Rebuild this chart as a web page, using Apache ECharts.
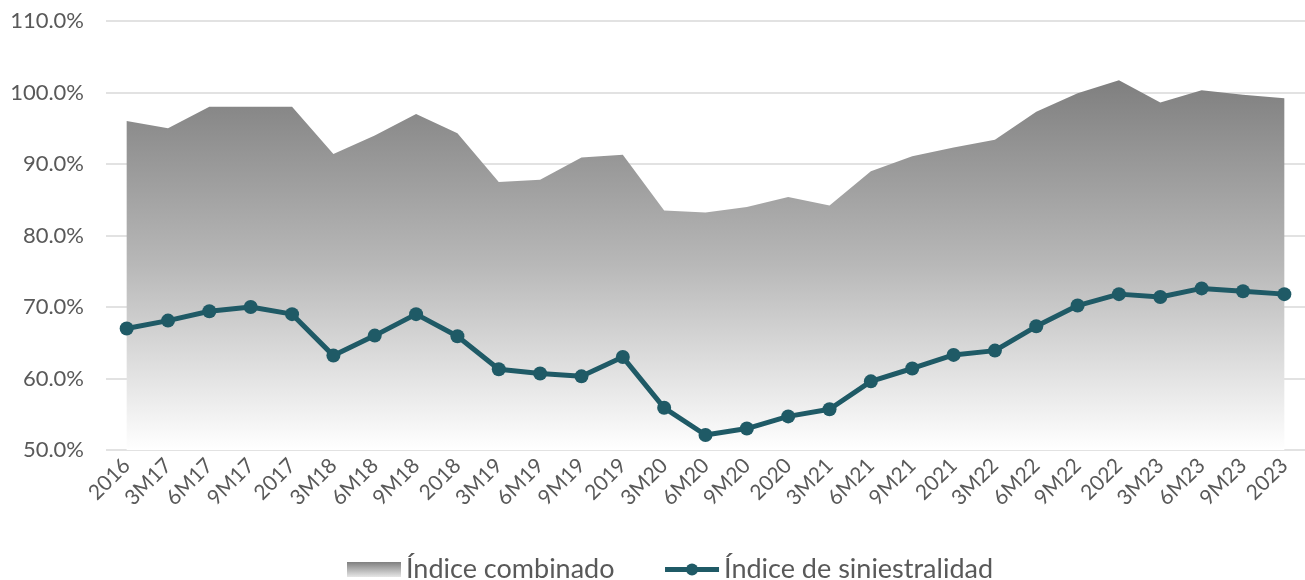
<!DOCTYPE html>
<html>
<head>
<meta charset="utf-8">
<script src="https://cdn.jsdelivr.net/npm/echarts@6/dist/echarts.min.js"></script>
<style>
  html, body { margin: 0; padding: 0; background: #fff; }
  #chart { width: 1305px; height: 580px; }
</style>
</head>
<body>
<div id="chart"></div>
<script>
// periodos
const categories = ['2016','3M17','6M17','9M17','2017','3M18','6M18','9M18','2018',
  '3M19','6M19','9M19','2019','3M20','6M20','9M20','2020','3M21','6M21','9M21','2021',
  '3M22','6M22','9M22','2022','3M23','6M23','9M23','2023']

// Índice combinado (%)
const combinado = [96.0,95.0,98.0,98.0,98.0,91.4,94.0,97.0,94.3,
  87.5,87.8,90.9,91.3,83.5,83.2,84.0,85.4,84.2,89.0,91.1,92.3,
  93.4,97.3,99.9,101.7,98.6,100.3,99.7,99.2]

// Índice de siniestralidad (%)
const siniestralidad = [67.0,68.1,69.4,70.0,69.0,63.2,66.0,69.0,65.9,
  61.3,60.7,60.3,63.0,55.9,52.1,53.0,54.7,55.7,59.6,61.4,63.3,
  63.9,67.3,70.2,71.8,71.4,72.6,72.2,71.8]

const chart = echarts.init(document.getElementById('chart'))
const fontFamily = 'Lato, "Noto Sans", sans-serif'

const option = {
  animation: false,
  grid: { left: 106, right: 0, top: 21, bottom: 130 },
  legend: {
    top: 551,
    left: 342,
    itemGap: 48,
    itemWidth: 54,
    itemHeight: 15,
    textStyle: { color: '#595959', fontSize: 27, fontFamily: fontFamily },
    data: [
      {
        name: 'Índice combinado',
        icon: 'rect',
        itemStyle: {
          color: new echarts.graphic.LinearGradient(0, 0, 0, 1, [
            { offset: 0, color: '#7f7f7f' },
            { offset: 1, color: '#e6e6e6' }
          ])
        }
      },
      { name: 'Índice de siniestralidad', lineStyle: { width: 5 } }
    ]
  },
  xAxis: {
    type: 'category',
    data: categories,
    boundaryGap: true,
    axisLine: { show: false },
    axisTick: { show: false },
    axisLabel: {
      rotate: 45,
      interval: 0,
      margin: 12,
      color: '#595959',
      fontSize: 21,
      fontFamily: fontFamily
    }
  },
  yAxis: {
    type: 'value',
    min: 50,
    max: 110,
    interval: 10,
    axisLine: { show: false },
    axisTick: { show: false },
    axisLabel: {
      margin: 22,
      color: '#595959',
      fontSize: 22,
      fontFamily: fontFamily,
      formatter: v => v.toFixed(1) + '%'
    },
    splitLine: { lineStyle: { color: '#d9d9d9', width: 1.5 } }
  },
  series: [
    {
      name: 'Índice combinado',
      type: 'line',
      data: combinado,
      symbol: 'none',
      lineStyle: { width: 0 },
      itemStyle: { color: '#8a8a8a' },
      areaStyle: {
        opacity: 1,
        color: new echarts.graphic.LinearGradient(0, 0, 0, 1, [
          { offset: 0, color: '#7f7f7f' },
          { offset: 0.5, color: '#b8b8b8' },
          { offset: 1, color: '#ffffff' }
        ])
      },
      z: 1
    },
    {
      name: 'Índice de siniestralidad',
      type: 'line',
      data: siniestralidad,
      symbol: 'circle',
      symbolSize: 14,
      lineStyle: { width: 5, color: '#1f5a66' },
      itemStyle: { color: '#1f5a66' },
      z: 3
    }
  ]
}

chart.setOption(option)
</script>
</body>
</html>
